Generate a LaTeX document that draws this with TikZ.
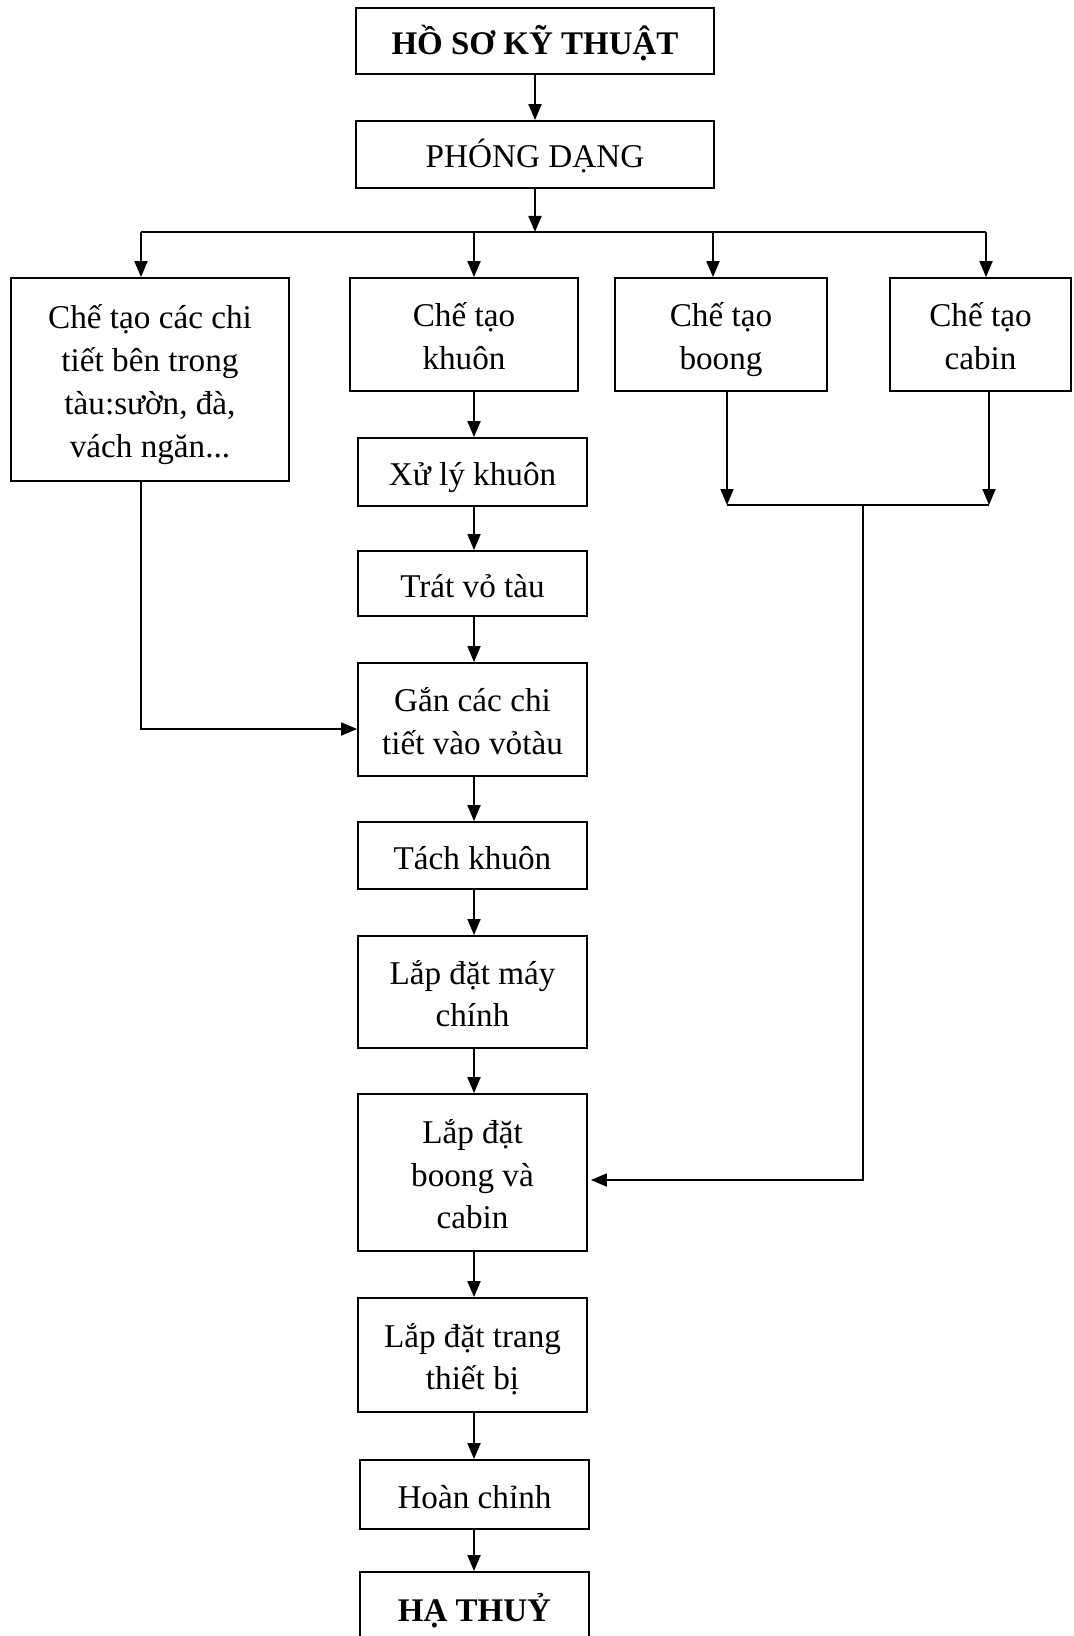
\documentclass[tikz,border=0pt]{standalone}
\usepackage{fontspec}
\setmainfont{Liberation Serif}
\usetikzlibrary{arrows.meta}
\newcommand{\Tst}{\rule{0pt}{18pt}}
\newcommand{\Bst}{\rule[-4.5pt]{0pt}{4.5pt}}
\begin{document}
\begin{tikzpicture}[x=0.5pt,y=-0.5pt,
  box/.style={draw,line width=0.9pt,inner sep=0pt,align=center,
    font=\fontsize{16.6}{21.4}\selectfont},
  bbox/.style={box,font=\fontsize{16.5}{21.4}\selectfont\bfseries},
  ln/.style={line width=0.9pt},
  arr/.style={ln,-{Triangle[length=8pt,width=6.5pt]}}]
\useasboundingbox (0,0) rectangle (1074,1636);
\clip (0,0) rectangle (1074,1636);
\fill[white] (0,0) rectangle (1074,1636);
% nodes
\node[bbox,minimum width=179pt,minimum height=33pt] (hoso) at (535,41) {\Tst HỒ SƠ KỸ THUẬT\Bst};
\node[box,minimum width=179pt,minimum height=33.5pt] (phong) at (535,154.5) {\Tst PHÓNG DẠNG\Bst};
\node[box,minimum width=139pt,minimum height=101.5pt] (chitiet) at (150,379.5) {\Tst Chế tạo các chi\\tiết bên trong\\tàu:sườn, đà,\\vách ngăn...\Bst};
\node[box,minimum width=114pt,minimum height=56.5pt] (khuon) at (464,334.5) {\Tst Chế tạo\\khuôn\Bst};
\node[box,minimum width=106pt,minimum height=56.5pt] (boong) at (721,334.5) {\Tst Chế tạo\\boong\Bst};
\node[box,minimum width=90.5pt,minimum height=56.5pt] (cabin) at (980.5,334.5) {\Tst Chế tạo\\cabin\Bst};
\node[box,minimum width=114.5pt,minimum height=34pt] (xuly) at (472.5,472) {\Tst Xử lý khuôn\Bst};
\node[box,minimum width=114.5pt,minimum height=32.5pt] (trat) at (472.5,583.5) {\Tst Trát vỏ tàu\Bst};
\node[box,minimum width=114.5pt,minimum height=56.5pt] (gan) at (472.5,719.5) {\Tst Gắn các chi\\tiết vào vỏtàu\Bst};
\node[box,minimum width=114.5pt,minimum height=33.5pt] (tach) at (472.5,855.5) {\Tst Tách khuôn\Bst};
\node[box,minimum width=114.5pt,minimum height=56pt] (may) at (472.5,992) {\Tst Lắp đặt máy\\chính\Bst};
\node[box,minimum width=114.5pt,minimum height=78.5pt] (lapboong) at (472.5,1172.5) {\Tst Lắp đặt\\boong và\\cabin\Bst};
\node[box,minimum width=114.5pt,minimum height=57pt] (thietbi) at (472.5,1355) {\Tst Lắp đặt trang\\thiết bị\Bst};
\node[box,minimum width=114.5pt,minimum height=34.5pt] (hoan) at (474.5,1494.5) {\Tst Hoàn chỉnh\Bst};
\node[bbox,minimum width=114.5pt,minimum height=36pt] (hathuy) at (474.5,1608) {\Tst HẠ THUỶ\Bst};
% coordinates
\coordinate (colx) at (474,0);
\coordinate (bus) at (535,232);
\coordinate (busL) at (141,232);
\coordinate (busR) at (986,232);
\coordinate (busB) at (713,232);
\coordinate (lj) at (141,729);
\coordinate (mL) at (727,505);
\coordinate (mR) at (989,505);
\coordinate (mJ) at (863,505);
\coordinate (mD) at (863,1180);
% connectors
\draw[arr] (hoso.south) -- (phong.north);
\draw[arr] (phong.south) -- (bus);
\draw[ln] (busL) -- (busR);
\draw[arr] (busL) -- (busL |- chitiet.north);
\draw[arr] (bus -| colx) -- (khuon.north -| colx);
\draw[arr] (busB) -- (busB |- boong.north);
\draw[arr] (busR) -- (busR |- cabin.north);
\draw[arr] (khuon.south -| colx) -- (xuly.north -| colx);
\draw[arr] (xuly.south -| colx) -- (trat.north -| colx);
\draw[arr] (trat.south -| colx) -- (gan.north -| colx);
\draw[arr] (gan.south -| colx) -- (tach.north -| colx);
\draw[arr] (tach.south -| colx) -- (may.north -| colx);
\draw[arr] (may.south -| colx) -- (lapboong.north -| colx);
\draw[arr] (lapboong.south -| colx) -- (thietbi.north -| colx);
\draw[arr] (thietbi.south -| colx) -- (hoan.north -| colx);
\draw[arr] (hoan.south -| colx) -- (hathuy.north -| colx);
\draw[arr] (chitiet.south -| lj) -- (lj) -- (gan.west |- lj);
\draw[arr] (boong.south -| mL) -- (mL);
\draw[arr] (cabin.south -| mR) -- (mR);
\draw[ln] (mL) -- (mR);
\draw[arr,shorten >=1.5pt] (mJ) -- (mD) -- (lapboong.east |- mD);
\end{tikzpicture}
\end{document}
